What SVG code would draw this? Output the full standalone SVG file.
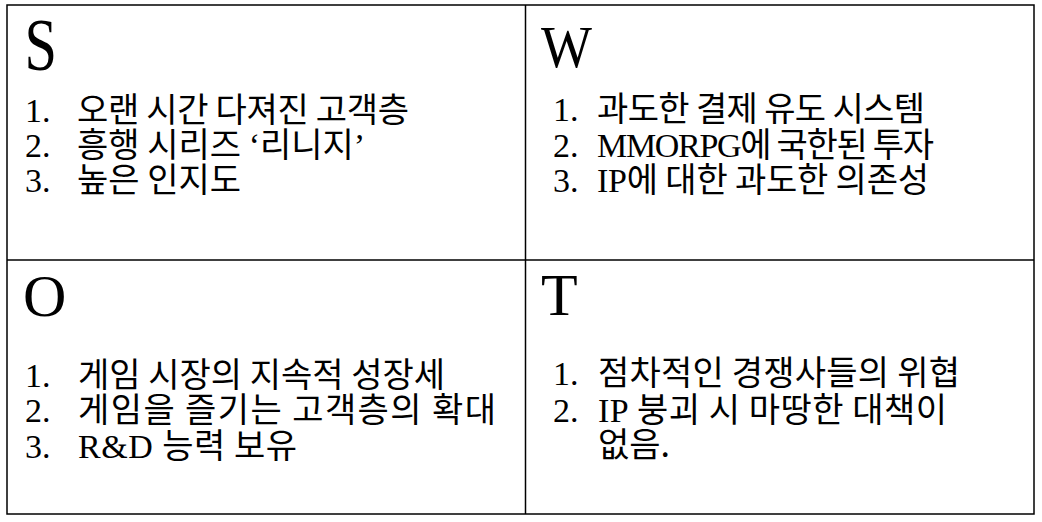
<svg xmlns="http://www.w3.org/2000/svg" width="1042" height="522" viewBox="0 0 1042 522">
<style>
.grid{fill:none;stroke:#000;stroke-width:1.5}
.big{font-family:"Liberation Serif","Noto Serif CJK KR",serif;font-size:60px;fill:#000}
.bigS{font-size:73px}
.item{font-family:"Liberation Serif","Noto Sans CJK KR",serif;font-size:34px;fill:#000}
.kr{font-family:"Noto Sans CJK KR","Liberation Serif",sans-serif;font-size:34px}
.lat{font-family:"Liberation Serif",serif;font-size:34px}
</style>
<rect width="1042" height="522" fill="#fff"/>
<g id="connectors">
<rect class="grid" x="7" y="5" width="1027" height="509"/>
<line class="grid" x1="525.5" y1="5" x2="525.5" y2="514"/>
<line class="grid" x1="7" y1="260" x2="1034" y2="260"/>
</g>
<g id="S">
<text class="big bigS" x="25" y="70" transform="translate(22 0) scale(0.8 1) translate(-22 0)">S</text>
<text class="item" x="25" y="122">1.</text><text class="item kr" x="77" y="122" textLength="332" lengthAdjust="spacing">오랜 시간 다져진 고객층</text>
<text class="item" x="25" y="157">2.</text><text class="item kr" x="77" y="157">흥행 시리즈 <tspan class="lat">‘</tspan>리니지<tspan class="lat">’</tspan></text>
<text class="item" x="25" y="192">3.</text><text class="item kr" x="77" y="192">높은 인지도</text>
</g>
<g id="W">
<text class="big" x="541" y="67" transform="translate(541 0) scale(0.9 1) translate(-541 0)">W</text>
<text class="item" x="553" y="121">1.</text><text class="item kr" x="597" y="121" textLength="328" lengthAdjust="spacing">과도한 결제 유도 시스템</text>
<text class="item" x="553" y="157">2.</text><text class="item" x="597" y="157" textLength="337" lengthAdjust="spacing">MMORPG<tspan class="kr">에 국한된 투자</tspan></text>
<text class="item" x="553" y="192">3.</text><text class="item" x="597" y="192" textLength="332" lengthAdjust="spacing">IP<tspan class="kr">에 대한 과도한 의존성</tspan></text>
</g>
<g id="O">
<text class="big" x="23" y="316">O</text>
<text class="item" x="25" y="387">1.</text><text class="item kr" x="78" y="387" textLength="367" lengthAdjust="spacing">게임 시장의 지속적 성장세</text>
<text class="item" x="25" y="422">2.</text><text class="item kr" x="78" y="422" textLength="418" lengthAdjust="spacing">게임을 즐기는 고객층의 확대</text>
<text class="item" x="25" y="458">3.</text><text class="item" x="78" y="458" textLength="219" lengthAdjust="spacing">R&amp;D <tspan class="kr">능력 보유</tspan></text>
</g>
<g id="T">
<text class="big" x="541" y="315">T</text>
<text class="item" x="553" y="385">1.</text><text class="item kr" x="598" y="385" textLength="362" lengthAdjust="spacing">점차적인 경쟁사들의 위협</text>
<text class="item" x="553" y="422">2.</text><text class="item" x="598" y="422" textLength="349" lengthAdjust="spacing">IP <tspan class="kr">붕괴 시 마땅한 대책이</tspan></text>
<text class="item kr" x="598" y="457">없음.</text>
</g>
</svg>
